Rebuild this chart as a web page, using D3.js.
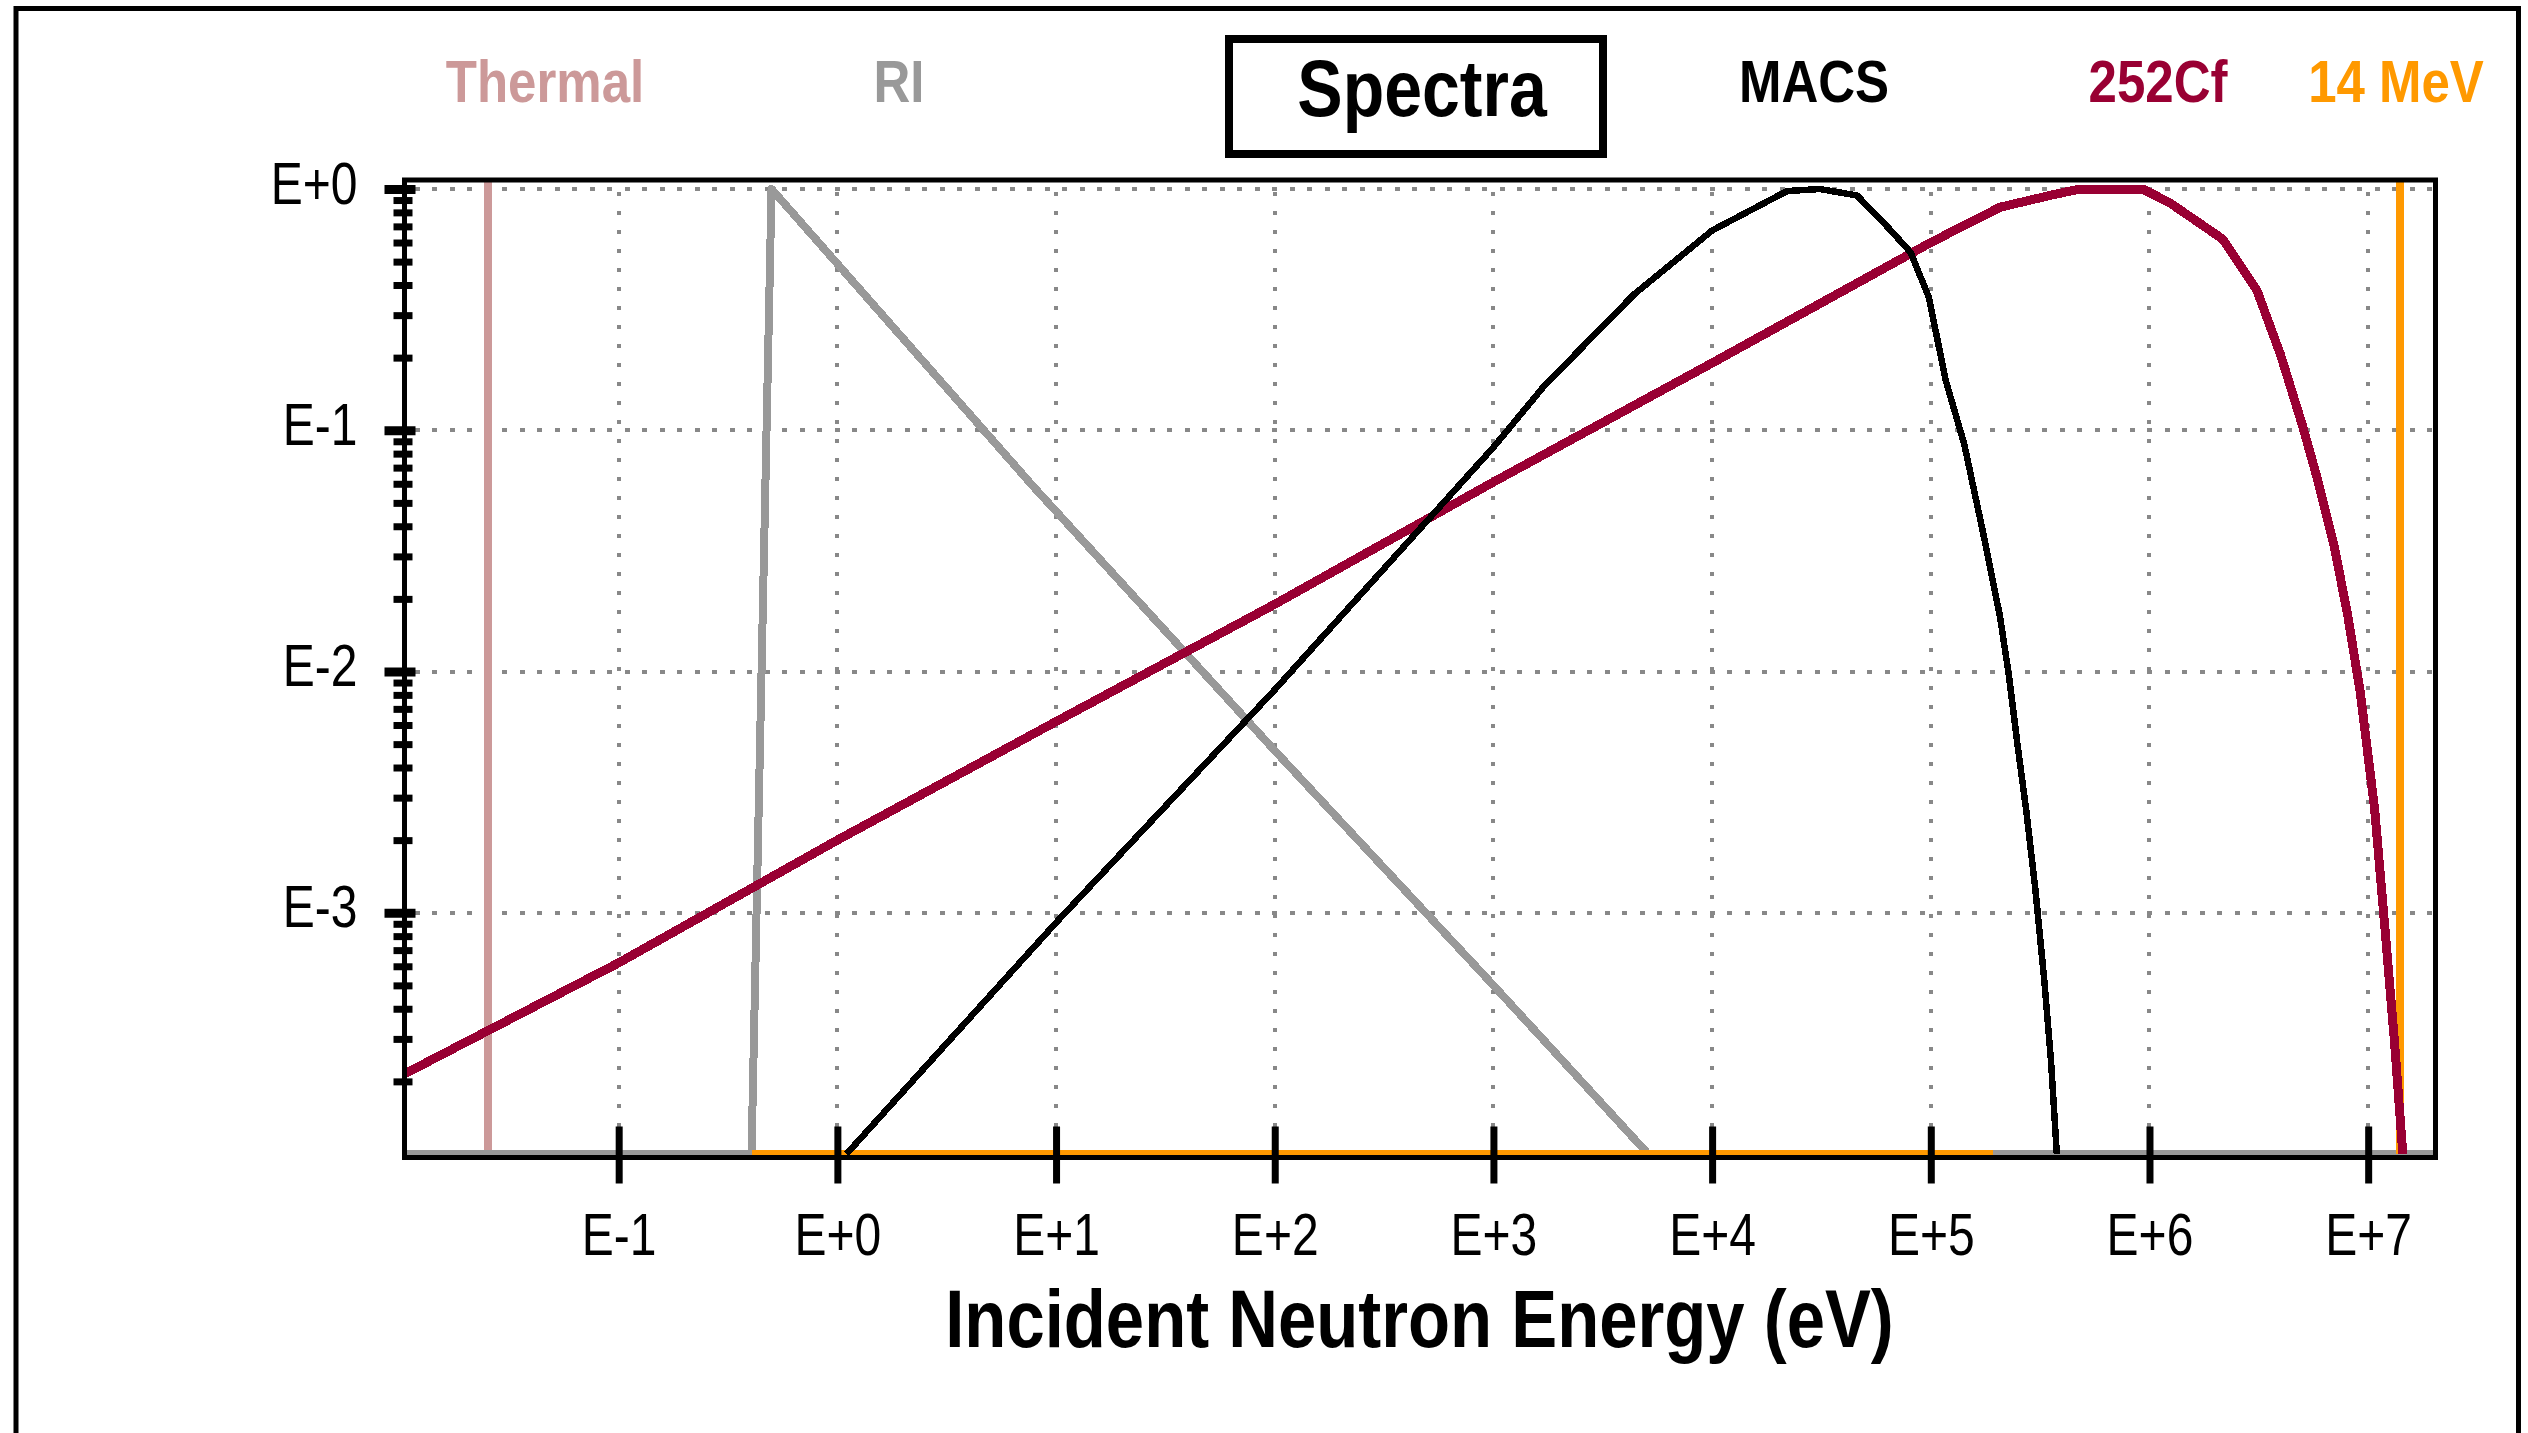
<!DOCTYPE html>
<html lang="en">
<head>
  <meta charset="UTF-8">
  <title>Spectra</title>
  <script src="https://cdn.jsdelivr.net/npm/d3@7"></script>
  <style>
    body { margin: 0; background: #fff; }
    svg { display: block; }
    text { font-family: "Liberation Sans", Arial, sans-serif; }
  </style>
</head>
<body>
<svg id="chart" width="2528" height="1433"></svg>
<script>
  // energies in eV, flux relative to peak
  const thermalE = [0.01, 0.0253, 0.0253, 0.0253, 2e7];
  const thermalV = [1e-4, 1e-4, 1.2, 1e-4, 1e-4];

  const riE = [0.01, 0.405, 0.5, 7.8, 100, 1000, 5100, 2e7];
  const riV = [1e-4, 1e-4, 1, 0.059, 4.7e-3, 5.0e-4, 1e-4, 1e-4];

  const mevE = [0.405, 1.92e5, NaN, 1.4e7, 1.4e7];
  const mevV = [1e-4, 1e-4, NaN, 1e-4, 1.2];

  const cfE = [0.01, 0.1, 1, 10, 100, 1000, 1e4, 1e5, 2.07e5, 3.5e5, 4.8e5, 9.3e5, 1.23e6, 1.7e6,
    2.16e6, 2.74e6, 3.1e6, 3.98e6, 5.0e6, 5.8e6, 7.0e6, 8.07e6, 9.2e6, 1.07e7, 1.2e7, 1.32e7, 1.44e7];
  const cfV = [2.1e-4, 6.2e-4, 2.0e-3, 6.2e-3, 1.9e-2, 6.1e-2, 0.19, 0.6, 0.84, 0.94, 1.0, 1.0, 0.88, 0.72,
    0.62, 0.45, 0.38, 0.205, 0.105, 0.065, 0.033, 0.017, 8.2e-3, 2.7e-3, 8.1e-4, 2.9e-4, 1e-4];

  const macsE = [1.1, 10, 100, 1000, 1.7e3, 4.4e3, 1e4, 2.2e4, 3.1e4, 4.6e4, 6.4e4, 8.1e4, 9.8e4,
    1.17e5, 1.42e5, 1.71e5, 2.07e5, 2.27e5, 2.49e5, 2.74e5, 3.01e5, 3.3e5, 3.55e5, 3.77e5];
  const macsV = [1e-4, 9.1e-4, 8.4e-3, 8.5e-2, 0.152, 0.366, 0.673, 0.98, 1.0, 0.94, 0.69, 0.545, 0.355,
    0.161, 0.088, 0.040, 0.017, 9.8e-3, 5.0e-3, 2.6e-3, 1.24e-3, 5.3e-4, 2.4e-4, 1e-4];

  const legendNames = ["Thermal", "RI", "MACS", "252Cf", "14 MeV"];
  const xTicks = [0.1, 1, 10, 100, 1e3, 1e4, 1e5, 1e6, 1e7];
  const xLabels = ["E-1", "E+0", "E+1", "E+2", "E+3", "E+4", "E+5", "E+6", "E+7"];
  const yTicks = [1, 0.1, 0.01, 0.001];
  const yLabels = ["E+0", "E-1", "E-2", "E-3"];

  // styles / layout
  const colors = { "Thermal": "#cc9999", "RI": "#999999", "MACS": "#000000", "252Cf": "#990033", "14 MeV": "#ff9900" };
  const legendX = [545, 899, 1814, 2158, 2396];
  const frame = { left: 404.5, right: 2435.5, top: 180, bottom: 1157.5 };

  const svg = d3.select("#chart");

  const x = d3.scaleLog().domain([0.01, 2e7]).range([400, 2434]);
  const y = d3.scaleLog().domain([1e-4, 1]).range([1154, 189]);

  // outer border
  svg.append("rect")
    .attr("x", 16).attr("y", 8.5)
    .attr("width", 2502.5).attr("height", 1500)
    .attr("fill", "none").attr("stroke", "#000").attr("stroke-width", 5);

  // title box
  svg.append("rect")
    .attr("x", 1229).attr("y", 39).attr("width", 374).attr("height", 115)
    .attr("fill", "none").attr("stroke", "#000").attr("stroke-width", 8);
  svg.append("text")
    .attr("transform", "translate(1422,116) scale(0.85,1)")
    .attr("text-anchor", "middle")
    .style("font-size", "80px").style("font-weight", "bold")
    .text("Spectra");

  // legend labels
  svg.selectAll("text.legend")
    .data(legendNames)
    .enter().append("text")
    .attr("class", "legend")
    .attr("transform", (d, i) => `translate(${legendX[i]},102) scale(0.85,1)`)
    .attr("text-anchor", "middle")
    .style("font-size", "60px").style("font-weight", "bold")
    .attr("fill", d => colors[d])
    .text(d => d);

  // grid
  const grid = svg.append("g").attr("stroke", "#888").attr("stroke-width", 4)
    .attr("shape-rendering", "crispEdges");
  grid.selectAll("line.h")
    .data(yTicks)
    .enter().append("line")
    .attr("x1", frame.left + 10).attr("x2", frame.right - 4)
    .attr("y1", d => y(d)).attr("y2", d => y(d))
    .attr("stroke-dasharray", "5 12.5");
  grid.selectAll("line.v")
    .data(xTicks)
    .enter().append("line")
    .attr("x1", d => x(d)).attr("x2", d => x(d))
    .attr("y1", frame.top + 12).attr("y2", frame.bottom - 30)
    .attr("stroke-dasharray", "4 15");

  // curves
  svg.append("clipPath").attr("id", "clip")
    .append("rect")
    .attr("x", frame.left).attr("y", frame.top)
    .attr("width", frame.right - frame.left).attr("height", frame.bottom - frame.top);

  const line = d3.line()
    .defined(d => !isNaN(d[0]))
    .x(d => x(d[0]))
    .y(d => y(d[1]));

  const series = [
    { name: "Thermal", e: thermalE, v: thermalV, w: 8 },
    { name: "RI", e: riE, v: riV, w: 8 },
    { name: "14 MeV", e: mevE, v: mevV, w: 8 },
    { name: "252Cf", e: cfE, v: cfV, w: 9 },
    { name: "MACS", e: macsE, v: macsV, w: 6.5 }
  ];

  svg.append("g").attr("clip-path", "url(#clip)")
    .selectAll("path")
    .data(series)
    .enter().append("path")
    .attr("d", s => line(s.e.map((e, i) => [e, s.v[i]])))
    .attr("fill", "none")
    .attr("stroke", s => colors[s.name])
    .attr("stroke-width", s => s.w)
    .attr("stroke-linejoin", "round")
    .attr("shape-rendering", "crispEdges");

  // frame
  svg.append("rect")
    .attr("x", frame.left).attr("y", frame.top)
    .attr("width", frame.right - frame.left).attr("height", frame.bottom - frame.top)
    .attr("fill", "none").attr("stroke", "#000").attr("stroke-width", 5);

  // x axis
  const xAxis = svg.append("g")
    .attr("transform", `translate(0,${frame.bottom})`)
    .call(d3.axisBottom(x).tickValues(xTicks).tickFormat((d, i) => xLabels[i]).tickSize(26));
  xAxis.select(".domain").remove();
  xAxis.selectAll(".tick line")
    .attr("y1", -31).attr("y2", 26)
    .attr("stroke", "#000").attr("stroke-width", 7);
  xAxis.selectAll(".tick text")
    .attr("y", 0).attr("dy", null)
    .attr("transform", "translate(0,97) scale(0.8,1)")
    .attr("fill", "#000")
    .style("font-size", "60px").style("font-family", "'Liberation Sans', Arial, sans-serif");

  // y axis, minor ticks first
  const yMinor = [];
  [1e-4, 1e-3, 1e-2, 1e-1].forEach(p => { for (let m = 2; m <= 9; m++) yMinor.push(p * m); });

  const yMinorAxis = svg.append("g")
    .attr("transform", `translate(${frame.left},0)`)
    .call(d3.axisLeft(y).tickValues(yMinor).tickFormat("").tickSize(11));
  yMinorAxis.select(".domain").remove();
  yMinorAxis.selectAll(".tick line")
    .attr("x1", -11).attr("x2", 8)
    .attr("stroke", "#000").attr("stroke-width", 7);

  const yAxis = svg.append("g")
    .attr("transform", `translate(${frame.left},0)`)
    .call(d3.axisLeft(y).tickValues(yTicks).tickFormat((d, i) => yLabels[i]).tickSize(20));
  yAxis.select(".domain").remove();
  yAxis.selectAll(".tick line")
    .attr("x1", -20).attr("x2", 11)
    .attr("stroke", "#000").attr("stroke-width", 9);
  yAxis.selectAll(".tick text")
    .attr("x", 0).attr("dy", null)
    .attr("transform", "translate(-47,14) scale(0.8,1)")
    .attr("text-anchor", "end")
    .attr("fill", "#000")
    .style("font-size", "60px").style("font-family", "'Liberation Sans', Arial, sans-serif");

  // axis title
  svg.append("text")
    .attr("transform", "translate(1419.5,1347) scale(0.85,1)")
    .attr("text-anchor", "middle")
    .style("font-size", "81px").style("font-weight", "bold")
    .text("Incident Neutron Energy (eV)");
</script>
</body>
</html>
